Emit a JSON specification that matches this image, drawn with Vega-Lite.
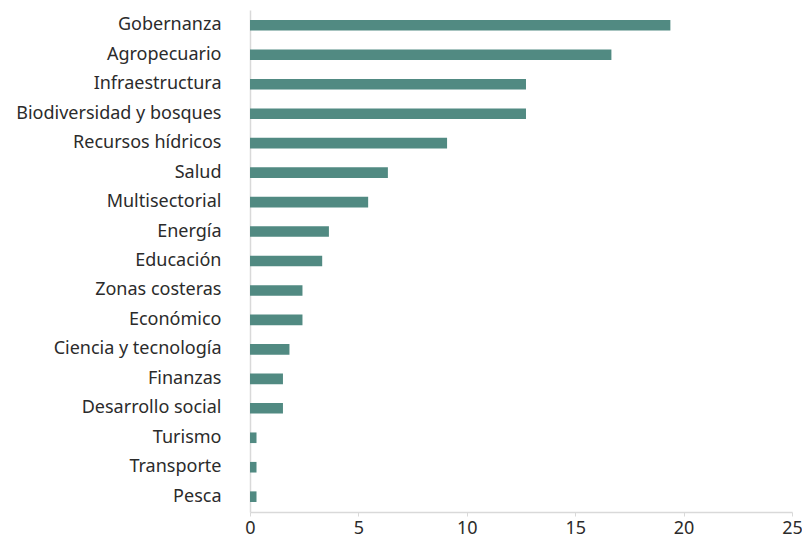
{
  "$schema": "https://vega.github.io/schema/vega-lite/v6.json",
  "autosize": {"type": "none"},
  "width": 542,
  "height": 502,
  "padding": {"left": 250, "top": 10, "right": 10, "bottom": 30},
  "background": "white",
  "config": {
    "view": {"stroke": null},
    "font": "Noto Sans",
    "axis": {"labelFont": "Noto Sans", "labelFontSize": 18, "labelColor": "#2b2b2b", "domainColor": "#d9d9d9", "tickColor": "#d9d9d9", "domainWidth": 1.5, "labelLimit": 400}
  },
  "data": {
    "values": [
      {"sector": "Gobernanza", "valor": 19.39},
      {"sector": "Agropecuario", "valor": 16.67},
      {"sector": "Infraestructura", "valor": 12.73},
      {"sector": "Biodiversidad y bosques", "valor": 12.73},
      {"sector": "Recursos hídricos", "valor": 9.09},
      {"sector": "Salud", "valor": 6.36},
      {"sector": "Multisectorial", "valor": 5.45},
      {"sector": "Energía", "valor": 3.64},
      {"sector": "Educación", "valor": 3.33},
      {"sector": "Zonas costeras", "valor": 2.42},
      {"sector": "Económico", "valor": 2.42},
      {"sector": "Ciencia y tecnología", "valor": 1.82},
      {"sector": "Finanzas", "valor": 1.52},
      {"sector": "Desarrollo social", "valor": 1.52},
      {"sector": "Turismo", "valor": 0.3},
      {"sector": "Transporte", "valor": 0.3},
      {"sector": "Pesca", "valor": 0.3}
    ]
  },
  "mark": {"type": "bar", "color": "#518A82"},
  "encoding": {
    "y": {
      "field": "sector",
      "type": "nominal",
      "sort": null,
      "scale": {"paddingInner": 0.64, "paddingOuter": 0.34},
      "axis": {"title": null, "ticks": false, "labelPadding": 29, "domainColor": "#d9d9d9"}
    },
    "x": {
      "field": "valor",
      "type": "quantitative",
      "scale": {"domain": [0, 25], "nice": false},
      "axis": {"title": null, "values": [0, 5, 10, 15, 20, 25], "grid": false, "tickSize": 4, "labelPadding": 3, "labelFontSize": 18, "labelFlush": false}
    }
  }
}
